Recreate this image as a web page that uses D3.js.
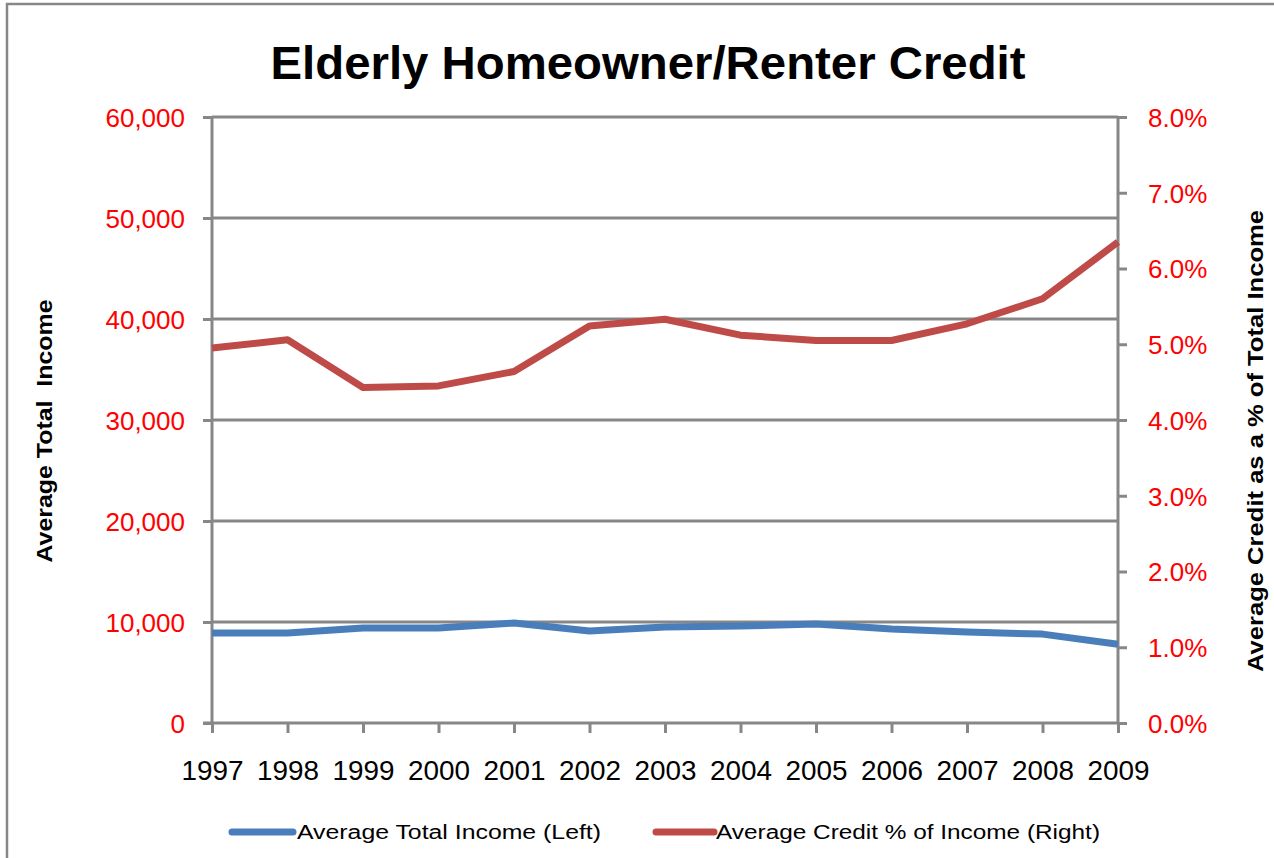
<!DOCTYPE html>
<html>
<head>
<meta charset="utf-8">
<script src="https://cdn.jsdelivr.net/npm/d3@7"></script>
<style>
  html, body { margin: 0; padding: 0; background: #fff; }
  svg { display: block; }
  text { font-family: "Liberation Sans", Arial, sans-serif; }
</style>
</head>
<body>
<svg id="chart" width="1274" height="858"></svg>
<script>
const years = ["1997","1998","1999","2000","2001","2002","2003","2004","2005","2006","2007","2008","2009"];
const income = [8900, 8900, 9400, 9400, 9900, 9100, 9500, 9600, 9800, 9300, 9000, 8800, 7800];
const creditPct = [4.95, 5.06, 4.43, 4.45, 4.64, 5.24, 5.33, 5.12, 5.05, 5.05, 5.27, 5.60, 6.35];
const leftTicks = [0, 10000, 20000, 30000, 40000, 50000, 60000];
const rightTicks = [0, 1, 2, 3, 4, 5, 6, 7, 8];
const titleText = "Elderly Homeowner/Renter Credit";
const leftTitle = "Average Total\u00A0 Income";
const rightTitle = "Average Credit as a % of Total Income";
const legendLabels = ["Average Total Income (Left)", "Average Credit % of Income (Right)"];

const svg = d3.select("#chart");
const L = 212, R = 1118, T = 117, B = 723;
const gray = "#878787";
const blue = "#4A7EBB", red = "#BE4B48";

// frame
svg.append("rect").attr("x", 7).attr("y", 4).attr("width", 1300).attr("height", 900)
  .attr("fill", "#fff").attr("stroke", gray).attr("stroke-width", 2.5);

const x = d3.scalePoint().domain(years).range([L, R]);
const yL = d3.scaleLinear().domain([0, 60000]).range([B, T]);
const yR = d3.scaleLinear().domain([0, 8]).range([B, T]);

// gridlines
svg.append("g").selectAll("line").data(leftTicks.filter(d => d > 0)).join("line")
  .attr("x1", L).attr("x2", R).attr("y1", d => yL(d)).attr("y2", d => yL(d))
  .attr("stroke", gray).attr("stroke-width", 3);

// left axis
const gL = svg.append("g").attr("transform", `translate(${L},0)`)
  .call(d3.axisLeft(yL).tickValues(leftTicks).tickFormat(d3.format(",")).tickSize(9).tickPadding(18));
gL.select(".domain").attr("stroke", gray).attr("stroke-width", 3).attr("d", `M0,${T}V${B}`);
gL.selectAll(".tick line").attr("stroke", gray).attr("stroke-width", 3);
gL.selectAll(".tick text").attr("fill", "#FF0000").attr("font-size", 26)
  .style("font-family", "'Liberation Sans', Arial, sans-serif").attr("dy", "0.36em");

// right axis
const gR = svg.append("g").attr("transform", `translate(${R},0)`)
  .call(d3.axisRight(yR).tickValues(rightTicks).tickFormat(d => d3.format(".1f")(d) + "%").tickSize(9).tickPadding(21));
gR.select(".domain").attr("stroke", gray).attr("stroke-width", 3).attr("d", `M0,${T}V${B}`);
gR.selectAll(".tick line").attr("stroke", gray).attr("stroke-width", 3);
gR.selectAll(".tick text").attr("fill", "#FF0000").attr("font-size", 26)
  .style("font-family", "'Liberation Sans', Arial, sans-serif").attr("dy", "0.36em");

// bottom axis
const gB = svg.append("g").attr("transform", `translate(0,${B})`)
  .call(d3.axisBottom(x).tickSize(10).tickPadding(28));
gB.select(".domain").attr("stroke", gray).attr("stroke-width", 3).attr("d", `M${L - 9},0H${R + 1}`);
gB.selectAll(".tick line").attr("stroke", gray).attr("stroke-width", 3);
gB.selectAll(".tick text").attr("fill", "#000").attr("font-size", 27)
  .style("font-family", "'Liberation Sans', Arial, sans-serif")
  .attr("textLength", 62).attr("lengthAdjust", "spacingAndGlyphs");

// lines
const lineL = d3.line().x((d, i) => x(years[i])).y(d => yL(d));
const lineR = d3.line().x((d, i) => x(years[i])).y(d => yR(d));
svg.append("path").datum(income).attr("d", lineL).attr("fill", "none")
  .attr("stroke", blue).attr("stroke-width", 7).attr("stroke-linejoin", "round");
svg.append("path").datum(creditPct).attr("d", lineR).attr("fill", "none")
  .attr("stroke", red).attr("stroke-width", 7).attr("stroke-linejoin", "round");

// title
svg.append("text").attr("x", 648).attr("y", 79).attr("text-anchor", "middle")
  .attr("font-size", 46).attr("font-weight", "bold").attr("fill", "#000")
  .attr("textLength", 755).attr("lengthAdjust", "spacingAndGlyphs").text(titleText);

// axis titles
svg.append("text").attr("transform", "translate(52,431) rotate(-90)").attr("text-anchor", "middle")
  .attr("font-size", 22).attr("font-weight", "bold").attr("fill", "#000")
  .attr("textLength", 263).attr("lengthAdjust", "spacingAndGlyphs").text(leftTitle);
svg.append("text").attr("transform", "translate(1263,441) rotate(-90)").attr("text-anchor", "middle")
  .attr("font-size", 22).attr("font-weight", "bold").attr("fill", "#000")
  .attr("textLength", 462).attr("lengthAdjust", "spacingAndGlyphs").text(rightTitle);

// legend
const legend = [
  { label: legendLabels[0], color: blue, x1: 232, x2: 293, tx: 297, tl: 304 },
  { label: legendLabels[1], color: red, x1: 656, x2: 714, tx: 716, tl: 384 }
];
const lg = svg.append("g");
legend.forEach(d => {
  lg.append("line").attr("x1", d.x1).attr("x2", d.x2).attr("y1", 832).attr("y2", 832)
    .attr("stroke", d.color).attr("stroke-width", 7).attr("stroke-linecap", "round");
  lg.append("text").attr("x", d.tx).attr("y", 839).attr("font-size", 20).attr("fill", "#000")
    .attr("textLength", d.tl).attr("lengthAdjust", "spacingAndGlyphs").text(d.label);
});
</script>
</body>
</html>
